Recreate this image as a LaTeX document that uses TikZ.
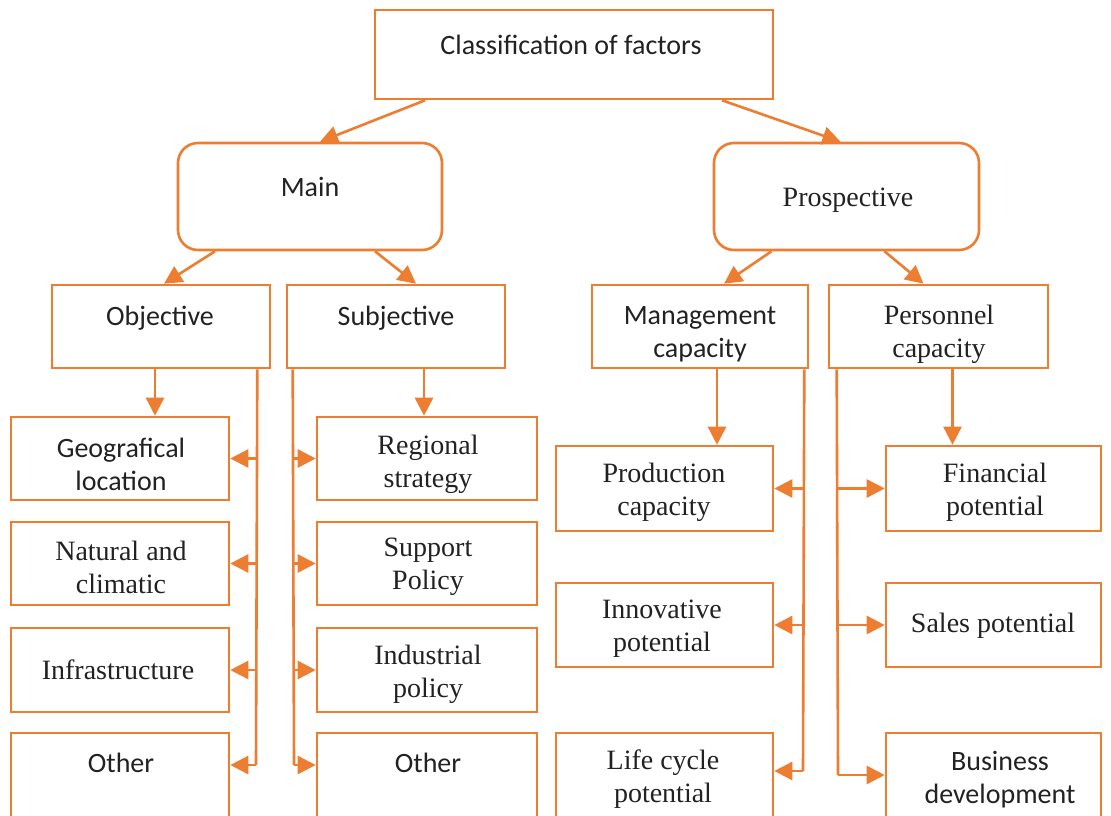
\documentclass[tikz,border=0pt]{standalone}
\usepackage{fontspec}
\setmainfont{Liberation Serif}
\newfontfamily\calf{Carlito}
\usetikzlibrary{arrows.meta}
\definecolor{orb}{HTML}{ED7D31}
\definecolor{tx}{HTML}{222222}
\begin{document}
\begin{tikzpicture}[x=1pt,y=-1pt,
  box/.style={draw=orb,line width=2.6pt,fill=white,inner sep=0pt},
  rbox/.style={box,rounded corners=20pt},
  txt/.style={inner sep=0pt,align=center,text=tx,font=\fontsize{28}{33}\selectfont},
  ctxt/.style={inner sep=0pt,align=center,text=tx,font=\calf\fontsize{28}{33}\selectfont},
  ln/.style={draw=orb,line width=2.6pt},
  arr/.style={ln,-{Triangle[length=18pt,width=18pt]}}]
\useasboundingbox (0,0) rectangle (1111,815);
\clip (0,0) rectangle (1111,815);
\fill[white] (0,0) rectangle (1111,815);

% level 1 and 2
\node[box,minimum width=398pt,minimum height=89pt] (top) at (574,54.5) {};
\node[rbox,minimum width=264pt,minimum height=107pt] (main) at (310,196.5) {};
\node[rbox,minimum width=265pt,minimum height=107pt] (prosp) at (846.5,196.5) {};
% level 3
\node[box,minimum width=218pt,minimum height=83pt] (obj) at (161,326.5) {};
\node[box,minimum width=218pt,minimum height=83pt] (subj) at (396,326.5) {};
\node[box,minimum width=216pt,minimum height=83pt] (mgmt) at (700,326.5) {};
\node[box,minimum width=219pt,minimum height=83pt] (pers) at (938.5,326.5) {};
% leaves
\node[box,minimum width=218pt,minimum height=83pt] (geo) at (120,458.5) {};
\node[box,minimum width=218pt,minimum height=83pt] (nat) at (120,563.5) {};
\node[box,minimum width=218pt,minimum height=84pt] (infra) at (120,670) {};
\node[box,minimum width=218pt,minimum height=85pt] (oth1) at (120,775.5) {};
\node[box,minimum width=220pt,minimum height=83pt] (reg) at (427,458.5) {};
\node[box,minimum width=220pt,minimum height=83pt] (sup) at (427,563.5) {};
\node[box,minimum width=220pt,minimum height=84pt] (ind) at (427,670) {};
\node[box,minimum width=220pt,minimum height=85pt] (oth2) at (427,775.5) {};
\node[box,minimum width=217pt,minimum height=85pt] (prod) at (664.5,488.5) {};
\node[box,minimum width=217pt,minimum height=84pt] (innov) at (664.5,625) {};
\node[box,minimum width=217pt,minimum height=85pt] (life) at (664.5,775.5) {};
\node[box,minimum width=215pt,minimum height=85pt] (fin) at (993.5,488.5) {};
\node[box,minimum width=215pt,minimum height=84pt] (sales) at (993.5,625) {};
\node[box,minimum width=215pt,minimum height=85pt] (bus) at (993.5,775.5) {};

% texts
\node[ctxt] (t-top) at (571,45) {Classification of factors};
\node[ctxt] (t-main) at (310,187) {Main};
\node[txt] (t-prosp) at (848,200) {Prospective};
\node[ctxt] (t-obj) at (160,318) {Objective};
\node[ctxt] (t-subj) at (396,318) {Subjective};
\node[ctxt] (t-mgmt) at (700,334) {Management\\capacity};
\node[txt] (t-pers) at (939,334) {Personnel\\capacity};
\node[ctxt] (t-geo) at (121,464) {Geografical\\location};
\node[txt] (t-nat) at (121,567) {Natural and\\climatic};
\node[txt] (t-infra) at (118,670) {Infrastructure};
\node[ctxt] (t-oth1) at (121,763) {Other};
\node[txt] (t-reg) at (428,464) {Regional\\strategy};
\node[txt] (t-sup) at (428,567) {Support\\Policy};
\node[txt] (t-ind) at (428,674) {Industrial\\policy};
\node[ctxt] (t-oth2) at (428,763) {Other};
\node[txt] (t-prod) at (664,492) {Production\\capacity};
\node[txt] (t-innov) at (662,629) {Innovative\\potential};
\node[txt] (t-life) at (663,779) {Life cycle\\potential};
\node[txt] (t-fin) at (995,492) {Financial\\potential};
\node[txt] (t-sales) at (993,626) {Sales potential};
\node[ctxt] (t-bus) at (1000,780) {Business\\development};

% upper connectors
\draw[arr] ([xshift=-149pt]top.south) -- ([xshift=10pt]main.north);
\draw[arr] ([xshift=148pt]top.south) -- ([xshift=-6pt]prosp.north);
\draw[arr] ([xshift=-95pt]main.south) -- ([xshift=3pt]obj.north);
\draw[arr] ([xshift=65pt]main.south) -- ([xshift=20pt]subj.north);
\draw[arr] ([xshift=-75pt]prosp.south) -- ([xshift=24pt]mgmt.north);
\draw[arr] ([xshift=38pt]prosp.south) -- ([xshift=-15pt]pers.north);

% down arrows
\draw[arr] ([xshift=-6pt]obj.south) -- ([xshift=-6pt]obj.south |- geo.north);
\draw[arr] ([xshift=28pt]subj.south) -- ([xshift=28pt]subj.south |- reg.north);
\draw[arr] ([xshift=17pt]mgmt.south) -- ([xshift=17pt]mgmt.south |- prod.north);
\draw[arr] ([xshift=14pt]pers.south) -- ([xshift=14pt]pers.south |- fin.north);

% buses
\coordinate (objbus) at ([xshift=-14pt]obj.south east);
\coordinate (objend) at (256,765);
\draw[ln] (objbus) -- (objend);
\draw[arr] (objbus |- geo.east) -- (geo.east);
\draw[arr] (objbus |- nat.east) -- (nat.east);
\draw[arr] (objbus |- infra.east) -- (infra.east);
\draw[arr] (objend) -- (objend -| oth1.east);

\coordinate (subjbus) at ([xshift=7pt]subj.south west);
\coordinate (subjend) at (294,765);
\draw[ln] (subjbus) -- (subjend);
\draw[arr] (subjbus |- reg.west) -- (reg.west);
\draw[arr] (subjbus |- sup.west) -- (sup.west);
\draw[arr] (subjbus |- ind.west) -- (ind.west);
\draw[arr] (subjend) -- (subjend -| oth2.west);

\coordinate (mgmtbus) at ([xshift=-5pt]mgmt.south east);
\coordinate (mgmtend) at (803,771);
\draw[ln] (mgmtbus) -- (mgmtend);
\draw[arr] (mgmtbus |- prod.east) -- (prod.east);
\draw[arr] (mgmtbus |- innov.east) -- (innov.east);
\draw[arr] (mgmtend) -- (mgmtend -| life.east);

\coordinate (persbus) at ([xshift=9pt]pers.south west);
\coordinate (persend) at (838,775);
\draw[ln] (persbus) -- (persend);
\draw[arr] (persbus |- fin.west) -- (fin.west);
\draw[arr] (persbus |- sales.west) -- (sales.west);
\draw[arr] (persend) -- (persend -| bus.west);
\end{tikzpicture}
\end{document}
